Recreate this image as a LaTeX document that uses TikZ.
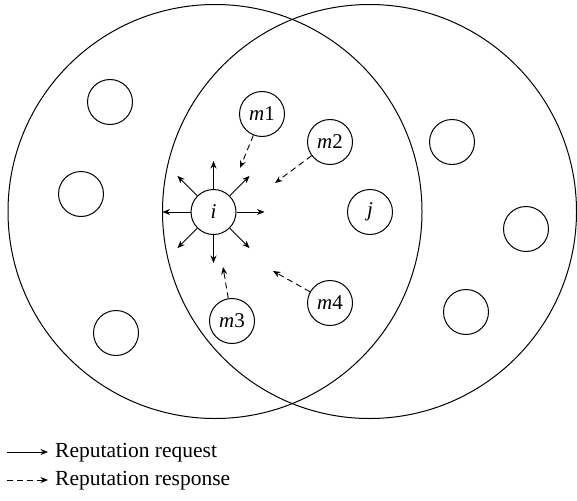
\documentclass[tikz,border=0pt]{standalone}
\usepackage{fontspec}
\setmainfont{Liberation Serif}
\usetikzlibrary{arrows.meta,calc}
\begin{document}
\begin{tikzpicture}[x=1pt,y=-1pt,
  big/.style={draw,circle,line width=1pt,minimum size=414pt,inner sep=0pt},
  peer/.style={draw,circle,line width=1pt,minimum size=45pt,inner sep=0pt,font=\fontsize{21}{24}\selectfont},
  req/.style={line width=0.9pt,-{Stealth[length=7.5pt,width=6pt]}},
  resp/.style={line width=0.9pt,dash pattern=on 6pt off 4pt,-{Stealth[length=7.5pt,width=6pt]}},
  lab/.style={anchor=base west,inner sep=0pt,font=\fontsize{21.5}{24}\selectfont}]
\useasboundingbox (0,0) rectangle (577,500);
\node[big] (L) at (215,211.5) {};
\node[big] (R) at (369.5,211.5) {};
% peers
\node[peer] (a1) at (110,102) {};
\node[peer] (a2) at (81,194) {};
\node[peer] (a3) at (116,333) {};
\node[peer] (b1) at (452,142) {};
\node[peer] (b2) at (526,229) {};
\node[peer] (b3) at (466,312) {};
\node[peer] (i) at (213.5,212) {\textit{i}};
\node[peer] (j) at (370,212) {\textit{j}};
\node[peer] (m1) at (262,114) {\textit{m}1};
\node[peer] (m2) at (330,142) {\textit{m}2};
\node[peer] (m3) at (232,321) {\textit{m}3};
\node[peer] (m4) at (330,303) {\textit{m}4};
% request arrows
\foreach \a in {0,45,...,315}{
  \coordinate (t\a) at ($(i.center)!51pt!(i.\a)$);
  \draw[req] (i.\a) -- (t\a);
}
% response arrows
\coordinate (r1) at (240,168);
\coordinate (r2) at (275,183);
\coordinate (r3) at (223,267);
\coordinate (r4) at (273,271);
\draw[resp] (m1) -- (r1);
\draw[resp] (m2) -- (r2);
\draw[resp] (m3) -- (r3);
\draw[resp] (m4) -- (r4);
% legend
\coordinate (l1a) at (7,452);
\coordinate (l1b) at (48,452);
\coordinate (l2a) at (7,480);
\coordinate (l2b) at (48,480);
\draw[req] (l1a) -- (l1b);
\draw[resp] (l2a) -- (l2b);
\node[lab] (t1) at (55,457) {Reputation request};
\node[lab] (t2) at (55,485) {Reputation response};
\end{tikzpicture}
\end{document}
